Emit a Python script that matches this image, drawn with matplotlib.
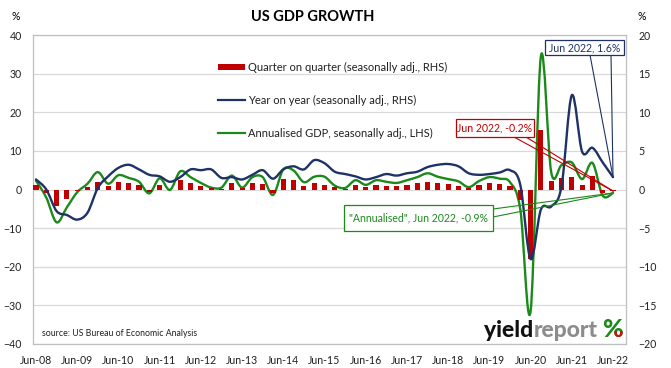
import numpy as np
import matplotlib
matplotlib.use("Agg")
import matplotlib.pyplot as plt
from matplotlib.path import Path
from matplotlib.patches import PathPatch, Rectangle
from matplotlib.lines import Line2D
from matplotlib.transforms import Bbox

# ---------------- data ----------------
tick_labels = ["Jun-08", "Jun-09", "Jun-10", "Jun-11", "Jun-12", "Jun-13", "Jun-14",
               "Jun-15", "Jun-16", "Jun-17", "Jun-18", "Jun-19", "Jun-20", "Jun-21", "Jun-22"]

# quarterly, Jun-08 .. Jun-22
qoq = [0.6, -0.5, -2.2,
       -1.2, -0.2, 0.3, 1.0,
       0.5, 1.0, 0.8, 0.6,
       -0.3, 0.6, 0.0, 1.2,
       0.8, 0.5, 0.2, 0.1,
       0.9, 0.2, 0.8, 0.7,
       -0.4, 1.3, 1.2, 0.5,
       0.8, 0.6, 0.3, 0.1,
       0.6, 0.3, 0.6, 0.5,
       0.4, 0.6, 0.8, 1.0,
       0.8, 0.7, 0.5, 0.2,
       0.6, 0.8, 0.7, 0.5,
       -1.4, -9.0, 7.7, 1.1,
       1.5, 1.6, 0.6, 1.7,
       -0.4, -0.2]

yoy = [1.3, 0.0, -2.8,
       -3.3, -3.9, -3.0, 0.2,
       1.7, 2.8, 3.2, 2.6,
       1.9, 1.7, 1.0, 1.6,
       2.6, 2.5, 2.6, 1.5,
       1.6, 1.3, 1.9, 2.5,
       1.4, 2.6, 3.0, 2.6,
       3.8, 3.4, 2.3, 2.0,
       1.7, 1.3, 1.6, 2.0,
       1.8, 2.1, 2.3, 2.9,
       3.2, 3.3, 3.0, 2.1,
       1.9, 2.0, 2.2, 2.5,
       0.6, -9.0, -2.6, -2.2,
       0.4, 12.2, 4.9, 5.4,
       3.5, 1.6]

ann = [2.3, -2.1, -8.5,
       -4.6, -0.7, 1.5, 4.5,
       1.5, 3.7, 3.0, 2.0,
       -1.0, 2.9, -0.1, 4.7,
       3.2, 1.7, 0.5, 0.5,
       3.6, 0.5, 3.2, 3.2,
       -1.4, 5.2, 4.9, 1.9,
       3.3, 3.3, 1.0, 0.4,
       2.4, 1.2, 2.4, 2.0,
       1.7, 2.4, 3.2, 4.2,
       3.3, 2.7, 2.1, 0.6,
       2.2, 3.2, 2.8, 1.9,
       -5.1, -31.5, 34.5, 4.5,
       6.3, 7.0, 2.7, 6.9,
       -1.6, -0.9]

RED = "#C00000"
NAVY = "#1F3266"
GREEN = "#1B8A1B"

plt.rcParams['font.family'] = ['Lato', 'DejaVu Sans']

W, H = 671, 368
fig = plt.figure(figsize=(W / 100, H / 100), dpi=100)


def fx(px):
    return px / W


def fy(py):
    return 1 - py / H


L, R, T, B = 33, 626, 35, 344
ax = fig.add_axes([fx(L), fy(B), (R - L) / W, (B - T) / H])
ax2 = ax.twinx()
ax2.patch.set_visible(False)

x = np.arange(len(qoq))


def smooth_path(xs, ys):
    pts = np.column_stack([xs, ys]).astype(float)
    n = len(pts)
    verts = [pts[0]]
    codes = [Path.MOVETO]
    for i in range(n - 1):
        p0 = pts[i - 1] if i > 0 else pts[i]
        p1 = pts[i]
        p2 = pts[i + 1]
        p3 = pts[i + 2] if i + 2 < n else pts[i + 1]
        c1 = p1 + (p2 - p0) / 6.0
        c2 = p2 - (p3 - p1) / 6.0
        verts += [c1, c2, p2]
        codes += [Path.CURVE4] * 3
    return Path(verts, codes)


# green (LHS)
ax.add_patch(PathPatch(smooth_path(x, ann), fill=False, edgecolor=GREEN, lw=1.7,
                       transform=ax.transData, zorder=3, capstyle='round', joinstyle='round'))
# bars & navy (RHS)
ax2.bar(x, qoq, width=0.5, color=RED, zorder=2)
ax2.add_patch(PathPatch(smooth_path(x, yoy), fill=False, edgecolor=NAVY, lw=1.7,
                        transform=ax2.transData, zorder=3, capstyle='round', joinstyle='round'))

ax.set_xlim(-0.291, 57.26)
ax.set_ylim(-40, 40)
ax2.set_ylim(-20, 20)

ax.set_yticks(range(-40, 41, 10))
ax2.set_yticks(range(-20, 21, 5))
ax.set_xticks(x[::4])
ax.set_xticklabels(tick_labels)
ax.yaxis.grid(True, color="#D9D9D9", lw=0.9)
ax.set_axisbelow(True)

ax.tick_params(axis='x', length=0, pad=8, labelsize=7.6, colors='#202020')
ax.tick_params(axis='y', length=0, pad=8, labelsize=7.6, colors='#202020')
ax2.tick_params(axis='y', length=0, pad=9, labelsize=7.6, colors='#202020')

for sp in ax.spines.values():
    sp.set_color("#BFBFBF")
    sp.set_linewidth(0.9)
for sp in ax2.spines.values():
    sp.set_visible(False)

# ---------------- texts ----------------
fig.text(fx(313), fy(17), "US GDP GROWTH", ha='center', va='center',
         fontsize=10.5, fontweight='bold', color='black')
fig.text(fx(16), fy(17), "%", ha='center', va='center', fontsize=7.6)
fig.text(fx(642), fy(17), "%", ha='center', va='center', fontsize=7.6)

# legend (manual)
leg_rows = [(67, "Quarter on quarter (seasonally adj., RHS)", 'bar', RED),
            (100, "Year on year (seasonally adj., RHS)", 'line', NAVY),
            (133, "Annualised GDP, seasonally adj., LHS)", 'line', GREEN)]
for yy, lab, kind, col in leg_rows:
    if kind == 'bar':
        fig.add_artist(Rectangle((fx(218), fy(yy + 3)), 27 / W, 6 / H,
                                 transform=fig.transFigure, color=col, lw=0))
    else:
        fig.add_artist(Line2D([fx(218), fx(245)], [fy(yy), fy(yy)],
                              transform=fig.transFigure, color=col, lw=1.6))
    fig.text(fx(248), fy(yy), lab, ha='left', va='center', fontsize=8.0, color='#202020')

fig.text(fx(42), fy(333), "source: US Bureau of Economic Analysis", ha='left',
         va='center', fontsize=6.3, color='#202020')

# ---------------- callouts ----------------
to_fig = fig.transFigure.inverted()


def callout(box, text, col, base_pts, axis, xv, yv):
    x0, y0, x1, y1 = box
    px, py = to_fig.transform(axis.transData.transform((xv, yv)))
    for bx, by in base_pts:
        fig.add_artist(Line2D([fx(bx), px], [fy(by), py], transform=fig.transFigure,
                              color=col, lw=0.8, zorder=5))
    fig.add_artist(Rectangle((fx(x0), fy(y1)), (x1 - x0) / W, (y1 - y0) / H,
                             transform=fig.transFigure, facecolor='white',
                             edgecolor=col, lw=0.9, zorder=6))
    fig.text(fx((x0 + x1) / 2), fy((y0 + y1) / 2), text, ha='center', va='center',
             fontsize=7.6, color=col, zorder=7)


callout((545, 40, 624, 55), "Jun 2022, 1.6%", NAVY, [(590, 55), (611, 55)],
        ax2, x[-1], yoy[-1])
callout((456, 119, 534, 137), "Jun 2022, -0.2%", RED, [(514, 137), (526, 137)],
        ax2, x[-1], qoq[-1])
callout((344, 205, 493, 231), "\"Annualised\", Jun 2022, -0.9%", GREEN,
        [(493, 209), (493, 217)], ax, x[-1], ann[-1])

# ---------------- logo (laid out from the right edge) ----------------
r = fig.canvas.get_renderer()
logo_fs = 16.5
logo_font = ['Lato', 'DejaVu Sans']
base_y = fy(337)
right = fx(623)
pc1 = fig.text(right, base_y, "%", ha='right', va='baseline', fontsize=logo_fs + 1.5,
               fontweight='black', color="#1B8A1B", family=logo_font)
pc2 = fig.text(right, base_y, "%", ha='right', va='baseline', fontsize=logo_fs + 1.5,
               fontweight='black', color="#D01010", family=logo_font)
bb = pc1.get_window_extent(r)
midx = (bb.x0 + bb.x1) / 2
midy = bb.y0 + (bb.y1 - bb.y0) * 0.45
pc2.set_clip_box(Bbox.from_extents(midx, bb.y0 - 5, bb.x1 + 5, midy))
pc2.set_clip_on(True)
cur = to_fig.transform((bb.x0, bb.y0))[0] - fx(5)
for s, c in [("report", "#8C8C8C"), ("yield", "#111111")]:
    t = fig.text(cur, base_y, s, ha='right', va='baseline', fontsize=logo_fs,
                 fontweight='black', color=c, family=logo_font)
    tb = t.get_window_extent(r)
    cur = to_fig.transform((tb.x0, tb.y0))[0]

fig.savefig("out.png", dpi=100)
